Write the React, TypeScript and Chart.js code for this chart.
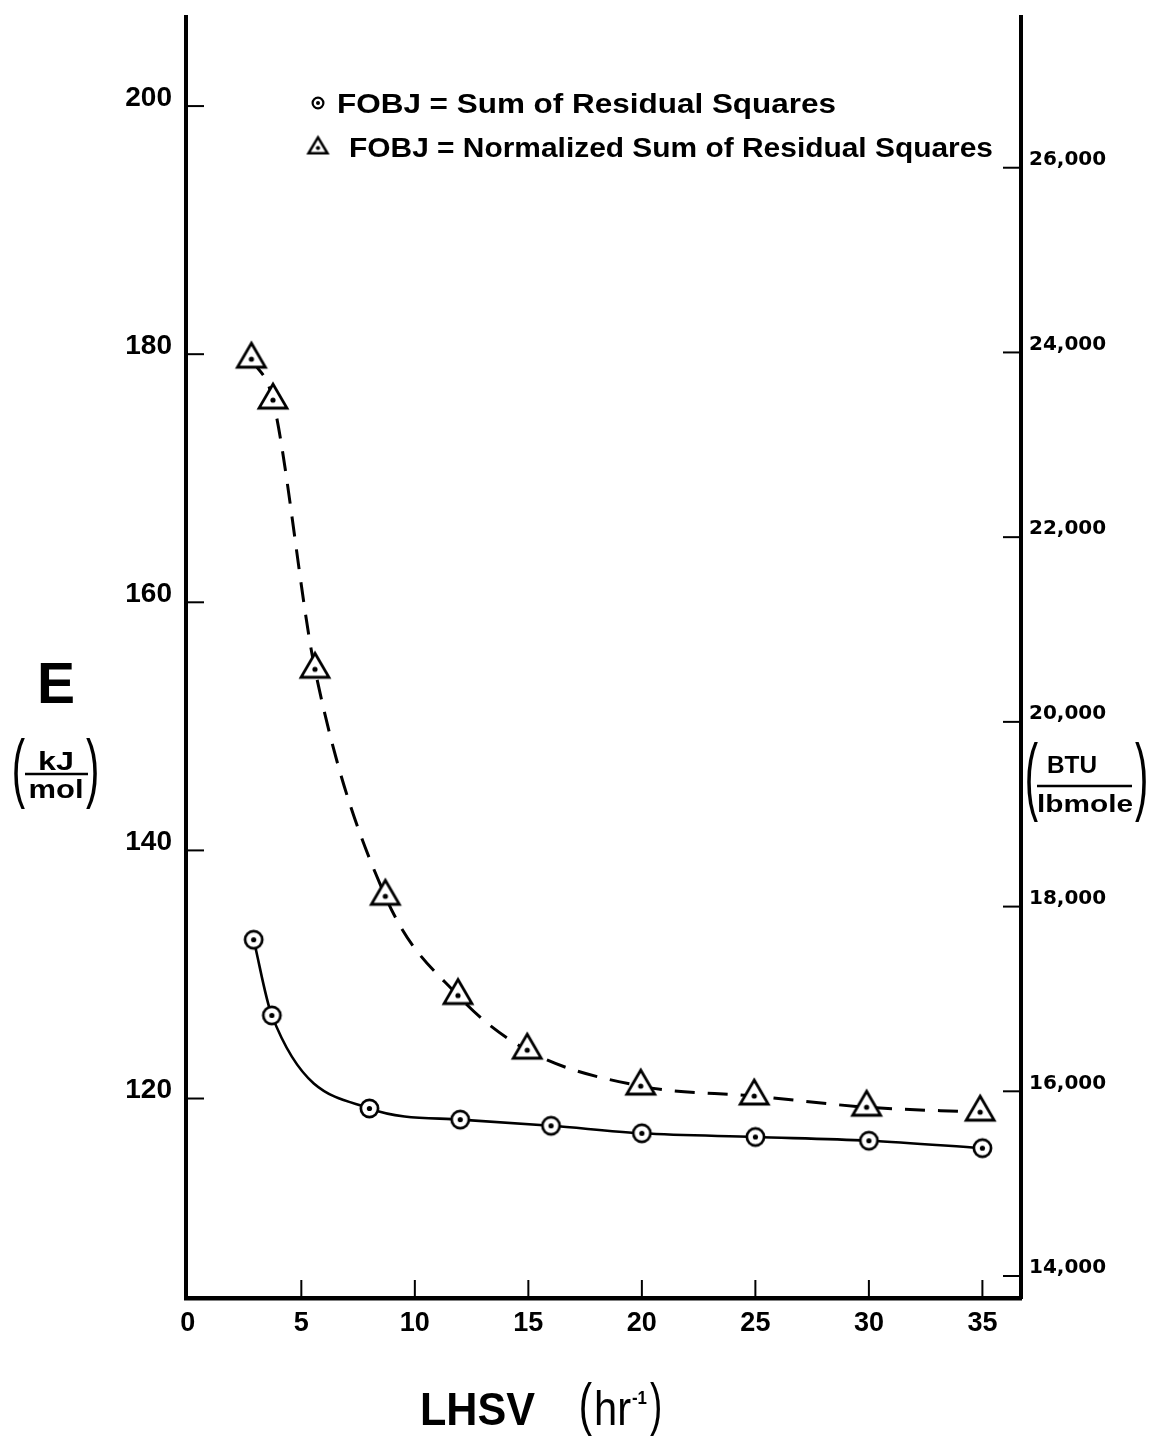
import React, { useEffect, useRef } from 'react';
import { Chart, registerables } from 'chart.js';

Chart.register(...registerables);

// ---------- data ----------
const lhsvCircle = [2.9, 3.7, 8, 12, 16, 20, 25, 30, 35];
const eCircle = [132.8, 126.7, 119.2, 118.3, 117.8, 117.2, 116.9, 116.6, 116.0];

const lhsvTriangle = [2.8, 3.75, 5.6, 8.7, 11.9, 14.95, 19.95, 24.95, 29.9, 34.9];
const eTriangle = [179.6, 176.3, 154.6, 136.3, 128.3, 123.9, 121.0, 120.2, 119.3, 118.9];

const seriesLabels = [
  'FOBJ = Sum of Residual Squares',
  'FOBJ = Normalized Sum of Residual Squares',
];

const xTicks = [0, 5, 10, 15, 20, 25, 30, 35];
const leftTicks = [120, 140, 160, 180, 200];
const rightTicks = [14000, 16000, 18000, 20000, 22000, 24000, 26000];
const rightTickLabels = ['14,000', '16,000', '18,000', '20,000', '22,000', '24,000', '26,000'];

const xRange = [-0.08, 36.7];
const leftRange = [103.92, 207.18];
const rightRange = [13762, 27632];

const SANS = '"Liberation Sans", Arial, Helvetica, sans-serif';
const DEJAVU = '"DejaVu Sans", sans-serif';

// ---------- marker canvases ----------
function circleMarker(r: number, lw: number, dot: number) {
  const size = Math.ceil(2 * (r + lw)) + 2;
  const c = document.createElement('canvas');
  c.width = size;
  c.height = size;
  const g = c.getContext('2d') as CanvasRenderingContext2D;
  const m = size / 2;
  g.beginPath();
  g.arc(m, m, r, 0, Math.PI * 2);
  g.fillStyle = '#fff';
  g.fill();
  g.lineWidth = lw;
  g.strokeStyle = '#000';
  g.stroke();
  g.beginPath();
  g.arc(m, m, dot, 0, Math.PI * 2);
  g.fillStyle = '#000';
  g.fill();
  return c;
}

function triangleMarker(w: number, h: number, lw: number, dot: number) {
  const up = (2 * h) / 3;
  const size = Math.ceil(2 * (Math.max(up, w / 2) + lw)) + 2;
  const c = document.createElement('canvas');
  c.width = size;
  c.height = size;
  const g = c.getContext('2d') as CanvasRenderingContext2D;
  const m = size / 2;
  g.beginPath();
  g.moveTo(m, m - up);
  g.lineTo(m + w / 2, m + h / 3);
  g.lineTo(m - w / 2, m + h / 3);
  g.closePath();
  g.fillStyle = '#fff';
  g.fill();
  g.lineJoin = 'miter';
  g.lineWidth = lw;
  g.strokeStyle = '#000';
  g.stroke();
  g.beginPath();
  g.arc(m, m, dot, 0, Math.PI * 2);
  g.fillStyle = '#000';
  g.fill();
  return c;
}

// ---------- text helpers ----------
function drawText(
  ctx: any,
  text: string,
  font: string,
  x: number,
  baseline: number,
  align: 'left' | 'center',
  width?: number
) {
  ctx.save();
  ctx.font = font;
  ctx.fillStyle = '#000';
  ctx.textBaseline = 'alphabetic';
  ctx.textAlign = 'left';
  const w = ctx.measureText(text).width;
  const finalW = width ?? w;
  const left = align === 'center' ? x - finalW / 2 : x;
  ctx.translate(left, baseline);
  if (width) ctx.scale(width / w, 1);
  ctx.fillText(text, 0, 0);
  ctx.restore();
}

function drawGlyphBox(ctx: any, ch: string, font: string, x0: number, y0: number, x1: number, y1: number) {
  ctx.save();
  ctx.font = font;
  ctx.fillStyle = '#000';
  ctx.textAlign = 'left';
  ctx.textBaseline = 'alphabetic';
  const m = ctx.measureText(ch);
  const gl = -m.actualBoundingBoxLeft;
  const gr = m.actualBoundingBoxRight;
  const ga = m.actualBoundingBoxAscent;
  const gd = m.actualBoundingBoxDescent;
  const sx = (x1 - x0) / (gr - gl);
  const sy = (y1 - y0) / (ga + gd);
  ctx.translate(x0 - gl * sx, y0 + ga * sy);
  ctx.scale(sx, sy);
  ctx.fillText(ch, 0, 0);
  ctx.restore();
}

function line(ctx: any, x1: number, y1: number, x2: number, y2: number, lw: number) {
  ctx.save();
  ctx.strokeStyle = '#000';
  ctx.lineWidth = lw;
  ctx.beginPath();
  ctx.moveTo(x1, y1);
  ctx.lineTo(x2, y2);
  ctx.stroke();
  ctx.restore();
}

export default function App() {
  const ref = useRef<HTMLCanvasElement | null>(null);

  useEffect(() => {
    const canvas = ref.current;
    if (!canvas) return;

    const circleImg = circleMarker(8.6, 2.7, 2.6);
    const triImg = triangleMarker(28, 24, 2.8, 2.6);
    const legendCircle = circleMarker(5.4, 2.2, 2.0);
    const legendTri = triangleMarker(19, 16, 2.5, 2.1);

    const whiteBg = {
      id: 'whiteBg',
      beforeDraw(chart: any) {
        const { ctx, width, height } = chart;
        ctx.save();
        ctx.fillStyle = '#fff';
        ctx.fillRect(0, 0, width, height);
        ctx.restore();
      },
    };

    const decorations = {
      id: 'decorations',
      afterDraw(chart: any) {
        const ctx = chart.ctx;
        const area = chart.chartArea;
        const sx = chart.scales.x;
        const sy = chart.scales.y;
        const sy2 = chart.scales.y2;

        // inward tick marks
        xTicks.forEach((v) => {
          if (v === 0) return;
          const px = sx.getPixelForValue(v);
          line(ctx, px, area.bottom, px, area.bottom - 18, 2);
        });
        leftTicks.forEach((v) => {
          const py = sy.getPixelForValue(v);
          line(ctx, area.left, py, area.left + 18, py, 2);
        });
        rightTicks.forEach((v) => {
          const py = sy2.getPixelForValue(v);
          line(ctx, area.right - 18, py, area.right, py, 2);
        });

        // legend
        ctx.drawImage(legendCircle, 318 - legendCircle.width / 2, 103 - legendCircle.height / 2);
        ctx.drawImage(legendTri, 318 - legendTri.width / 2, 148 - legendTri.height / 2);
        drawText(ctx, seriesLabels[0], `bold 27px ${SANS}`, 337, 113, 'left', 499);
        drawText(ctx, seriesLabels[1], `bold 27px ${SANS}`, 349, 157, 'left', 644);

        // left axis title
        drawText(ctx, 'E', `bold 57px ${SANS}`, 56, 703, 'center');
        drawGlyphBox(ctx, '(', `normal 30px ${SANS}`, 13, 737, 25, 808);
        drawGlyphBox(ctx, ')', `normal 30px ${SANS}`, 86, 737, 98, 808);
        drawText(ctx, 'kJ', `bold 25px ${SANS}`, 56, 770, 'center', 36);
        line(ctx, 25, 774, 88, 774, 2.5);
        drawText(ctx, 'mol', `bold 25px ${SANS}`, 56, 798, 'center', 55);

        // right axis title
        drawGlyphBox(ctx, '(', `normal 30px ${SANS}`, 1026, 741, 1038, 821);
        drawGlyphBox(ctx, ')', `normal 30px ${SANS}`, 1135, 741, 1147, 821);
        drawText(ctx, 'BTU', `bold 23px ${SANS}`, 1072, 773, 'center', 50);
        line(ctx, 1037, 786, 1132, 786, 2.5);
        drawText(ctx, 'lbmole', `bold 24px ${SANS}`, 1085, 812, 'center', 96);

        // x axis title
        drawText(ctx, 'LHSV', `bold 46px ${SANS}`, 420, 1425, 'left', 115);
        drawGlyphBox(ctx, '(', `normal 30px ${SANS}`, 580, 1382, 592, 1435);
        drawText(ctx, 'hr', `normal 48px ${SANS}`, 594, 1425, 'left', 37);
        drawText(ctx, '-1', `bold 18px ${SANS}`, 632, 1404, 'left', 15);
        drawGlyphBox(ctx, ')', `normal 30px ${SANS}`, 650, 1382, 661, 1435);
      },
    };

    const chart = new Chart(canvas, {
      type: 'line',
      data: {
        datasets: [
          {
            label: seriesLabels[0],
            data: lhsvCircle.map((x, i) => ({ x, y: eCircle[i] })),
            borderColor: '#000',
            borderWidth: 2.6,
            pointStyle: circleImg as any,
            pointRadius: 10,
            cubicInterpolationMode: 'monotone',
            yAxisID: 'y',
            fill: false,
          },
          {
            label: seriesLabels[1],
            data: lhsvTriangle.map((x, i) => ({ x, y: eTriangle[i] })),
            borderColor: '#000',
            borderWidth: 3,
            borderDash: [20, 13],
            pointStyle: triImg as any,
            pointRadius: 14,
            cubicInterpolationMode: 'monotone',
            yAxisID: 'y',
            fill: false,
          },
        ],
      },
      options: {
        animation: false,
        responsive: false,
        devicePixelRatio: 1,
        layout: { padding: { top: 14, left: 0, right: 0, bottom: 0 } },
        plugins: {
          legend: { display: false },
          tooltip: { enabled: false },
        },
        elements: { point: { hoverRadius: 10 } },
        scales: {
          x: {
            type: 'linear',
            position: 'bottom',
            min: xRange[0],
            max: xRange[1],
            afterBuildTicks: (s: any) => {
              s.ticks = xTicks.map((v) => ({ value: v }));
            },
            afterFit: (s: any) => {
              s.height = 140;
              s.paddingLeft = 0;
              s.paddingRight = 0;
            },
            grid: { display: false, drawTicks: false },
            border: { display: true, width: 4.5, color: '#000' },
            ticks: {
              autoSkip: false,
              maxRotation: 0,
              padding: 9,
              color: '#000',
              font: { family: SANS, size: 27, weight: 'bold' },
              callback: (v: any) => String(v),
            },
          },
          y: {
            type: 'linear',
            position: 'left',
            min: leftRange[0],
            max: leftRange[1],
            afterBuildTicks: (s: any) => {
              s.ticks = leftTicks.map((v) => ({ value: v }));
            },
            afterFit: (s: any) => {
              s.width = 186;
              s.paddingTop = 0;
              s.paddingBottom = 0;
            },
            grid: { display: false, drawTicks: false },
            border: { display: true, width: 4, color: '#000' },
            ticks: {
              padding: 14,
              labelOffset: -8,
              color: '#000',
              font: { family: SANS, size: 28, weight: 'bold' },
              callback: (v: any) => String(v),
            },
          },
          y2: {
            type: 'linear',
            position: 'right',
            min: rightRange[0],
            max: rightRange[1],
            afterBuildTicks: (s: any) => {
              s.ticks = rightTicks.map((v) => ({ value: v }));
            },
            afterFit: (s: any) => {
              s.width = 130;
              s.paddingTop = 0;
              s.paddingBottom = 0;
            },
            grid: { display: false, drawTicks: false },
            border: { display: true, width: 4, color: '#000' },
            ticks: {
              padding: 8,
              labelOffset: -8,
              color: '#000',
              font: { family: DEJAVU, size: 20, weight: 'bold' },
              callback: (v: any) => {
                const i = rightTicks.indexOf(Number(v));
                return i >= 0 ? rightTickLabels[i] : '';
              },
            },
          },
        },
      },
      plugins: [whiteBg, decorations],
    } as any);

    return () => {
      chart.destroy();
    };
  }, []);

  return (
    <div style={{ position: 'absolute', left: 0, top: 0, width: 1151, height: 1438, background: '#fff' }}>
      <canvas ref={ref} width={1151} height={1438} style={{ display: 'block', width: 1151, height: 1438 }} />
    </div>
  );
}
